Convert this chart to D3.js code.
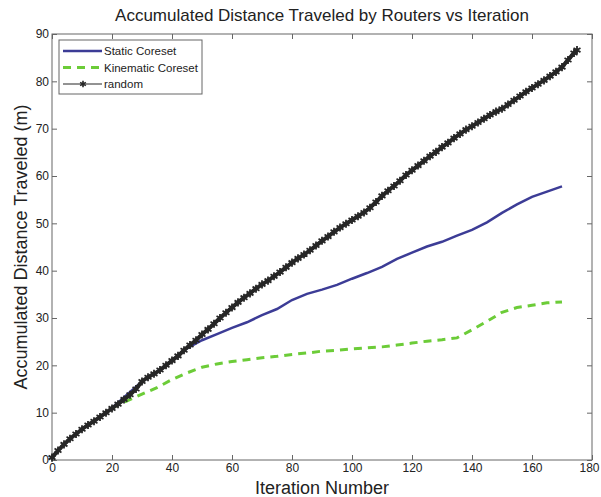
<!DOCTYPE html>
<html>
<head>
<meta charset="utf-8">
<script src="https://cdn.jsdelivr.net/npm/d3@7"></script>
<style>
  body { margin: 0; background: #fff; }
  text { font-family: "Liberation Sans", Arial, sans-serif; fill: #222; }
</style>
</head>
<body>
<div id="container"></div>
<script>
// random: every 2nd iteration
const randomX = d3.range(0, 176, 2).concat([175]);
const randomY = [
  0.5, 2, 3.3, 4.5, 5.5, 6.5, 7.4, 8.2, 9.1, 10, 10.9, 11.8, 12.8, 13.8, 15, 16.6,
  17.5, 18.2, 19, 20, 21, 22, 23.2, 24.3, 25.3, 26.5, 27.6, 28.8, 30, 31.1, 32.2,
  33.3, 34.3, 35.2, 36.2, 37.1, 37.9, 38.8, 39.7, 40.7, 41.7, 42.6, 43.4, 44.3,
  45.3, 46.3, 47.2, 48.2, 49.1, 49.9, 50.7, 51.5, 52.3, 53.3, 54.5, 55.8, 56.9,
  57.9, 59, 60.2, 61.2, 62.2, 63.2, 64.2, 65.1, 66.1, 67, 68, 68.9, 69.8, 70.5,
  71.3, 72.1, 72.9, 73.6, 74.2, 75.1, 76, 76.9, 77.8, 78.6, 79.4, 80.2, 81.1, 82,
  83, 84.5, 86, 86.6
];

const coresetX = d3.range(20, 171, 5);
const staticY = [
  11, 13.8, 16.6, 18.6, 21, 23.6, 25.3, 26.6, 27.9, 29.1, 30.6, 31.9, 33.8, 35.1,
  36, 37, 38.3, 39.5, 40.8, 42.5, 43.8, 45.1, 46.1, 47.4, 48.6, 50.2, 52.2, 54,
  55.6, 56.7, 57.8
];
const kinematicY = [
  11, 12.5, 13.9, 15.3, 17, 18.4, 19.6, 20.3, 20.8, 21.2, 21.6, 21.9, 22.3, 22.6,
  23, 23.2, 23.5, 23.7, 23.9, 24.3, 24.7, 25.1, 25.4, 25.8, 27.5, 29.3, 31.2, 32.2,
  32.7, 33.2, 33.4
];

const xTicks = d3.range(0, 181, 20);
const yTicks = d3.range(0, 91, 10);

const width = 601;
const height = 497;
const margins = { top: 34, bottom: 37, left: 52, right: 9 };

const svg = d3.select('#container')
  .append('svg')
  .attr('width', width)
  .attr('height', height)
  .attr('viewBox', [0, 0, width, height]);

const x = d3.scaleLinear([0, 180], [margins.left, width - margins.right]);
const y = d3.scaleLinear([0, 90], [height - margins.bottom, margins.top]);

const axisColor = '#666';

// box
svg.append('rect')
  .attr('x', x(0)).attr('y', y(90))
  .attr('width', x(180) - x(0)).attr('height', y(0) - y(90))
  .style('fill', 'none').style('stroke', axisColor).style('stroke-width', 1);

const styleAxis = g => {
  g.select('.domain').remove();
  g.selectAll('.tick line').style('stroke', axisColor);
  g.selectAll('.tick text')
    .style('font-size', '12px')
    .style('font-family', '"Liberation Sans", Arial, sans-serif')
    .style('fill', '#222');
};

svg.append('g')
  .attr('transform', `translate(0,${ y(0) })`)
  .call(d3.axisBottom(x).tickValues(xTicks).tickSizeInner(-5).tickSizeOuter(0).tickPadding(3))
  .call(styleAxis)
  .call(g => g.selectAll('.tick text').filter(d => d === 180).attr('dx', -3));
svg.append('g')
  .attr('transform', `translate(0,${ y(90) })`)
  .call(d3.axisTop(x).tickValues(xTicks).tickSizeInner(-5).tickSizeOuter(0).tickFormat(''))
  .call(styleAxis);
svg.append('g')
  .attr('transform', `translate(${ x(0) },0)`)
  .call(d3.axisLeft(y).tickValues(yTicks).tickSizeInner(-5).tickSizeOuter(0).tickPadding(3))
  .call(styleAxis);
svg.append('g')
  .attr('transform', `translate(${ x(180) },0)`)
  .call(d3.axisRight(y).tickValues(yTicks).tickSizeInner(-5).tickSizeOuter(0).tickFormat(''))
  .call(styleAxis);

const line = d3.line().x(d => x(d[0])).y(d => y(d[1]));

const randomData = d3.zip(randomX, randomY);
const staticData = d3.zip(coresetX, staticY);
const kinematicData = d3.zip(coresetX, kinematicY);

const blue = '#3c3c96';
const green = '#6ccc38';
const black = '#262626';

const plot = svg.append('g');

plot.append('path')
  .attr('d', line(kinematicData))
  .style('fill', 'none').style('stroke', green)
  .style('stroke-width', 3).style('stroke-dasharray', '8,6');

plot.append('path')
  .attr('d', line(staticData))
  .style('fill', 'none').style('stroke', blue).style('stroke-width', 2.5);

plot.append('path')
  .attr('d', line(randomData))
  .style('fill', 'none').style('stroke', black).style('stroke-width', 4);

const star = d3.symbol(d3.symbolAsterisk, 45);
plot.selectAll('path.mk')
  .data(randomData)
  .join('path')
  .attr('class', 'mk')
  .attr('transform', d => `translate(${ x(d[0]) },${ y(d[1]) })`)
  .attr('d', star)
  .style('fill', 'none').style('stroke', black).style('stroke-width', 1.8);

// legend
const legend = svg.append('g').attr('transform', 'translate(59,40)');
legend.append('rect')
  .attr('width', 143).attr('height', 54)
  .style('fill', '#fff').style('stroke', axisColor).style('stroke-width', 1);

const legendItems = [
  { name: 'Static Coreset', color: blue, width: 2.5, dash: null, marker: false },
  { name: 'Kinematic Coreset', color: green, width: 3, dash: '8,6', marker: false },
  { name: 'random', color: black, width: 1, dash: null, marker: true }
];

const item = legend.selectAll('g.item')
  .data(legendItems)
  .join('g')
  .attr('class', 'item')
  .attr('transform', (d, i) => `translate(0,${ 11 + i * 16.5 })`);

item.append('line')
  .attr('x1', 4).attr('x2', 43)
  .style('stroke', d => d.color)
  .style('stroke-width', d => d.width)
  .style('stroke-dasharray', d => d.dash);

item.filter(d => d.marker)
  .append('path')
  .attr('transform', 'translate(24,0)')
  .attr('d', d3.symbol(d3.symbolAsterisk, 30))
  .style('fill', 'none').style('stroke', black).style('stroke-width', 1.6);

item.append('text')
  .attr('x', 45).attr('dy', '0.35em')
  .style('font-size', '11.5px')
  .text(d => d.name);

// titles
svg.append('text')
  .attr('x', (x(0) + x(180)) / 2).attr('y', 21)
  .attr('text-anchor', 'middle')
  .style('font-size', '17px')
  .text('Accumulated Distance Traveled by Routers vs Iteration');

svg.append('text')
  .attr('x', (x(0) + x(180)) / 2).attr('y', 494)
  .attr('text-anchor', 'middle')
  .style('font-size', '18px')
  .text('Iteration Number');

svg.append('text')
  .attr('transform', `translate(27,${ (y(0) + y(90)) / 2 }) rotate(-90)`)
  .attr('text-anchor', 'middle')
  .style('font-size', '18px')
  .text('Accumulated Distance Traveled (m)');
</script>
</body>
</html>
